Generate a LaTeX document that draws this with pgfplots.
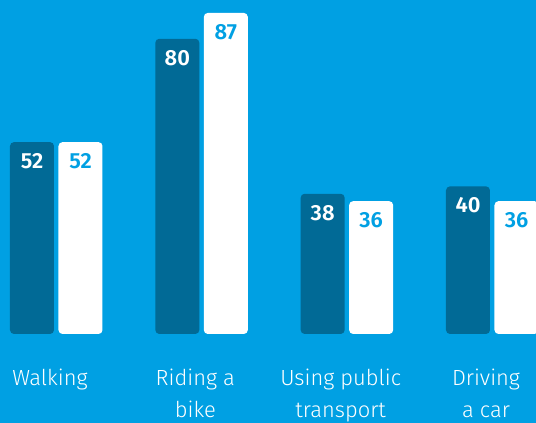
\documentclass[border=0pt]{standalone}
\usepackage{pgfplots}
\pgfplotsset{compat=1.18}
\usepackage{fontspec}
\setmainfont{Fira Sans}[UprightFont=* Light, BoldFont=* SemiBold]
\definecolor{bgblue}{RGB}{0,160,227}
\definecolor{darkbar}{RGB}{1,106,150}
\begin{document}
\begin{tikzpicture}
\clip (0,0) rectangle (536bp,423bp);
\fill[bgblue] (0,0) rectangle (536bp,423bp);
\begin{axis}[
  at={(0,89bp)}, anchor=south west,
  scale only axis, width=536bp, height=334bp,
  xmin=-0.3853, xmax=3.3028, ymin=0, ymax=90.5,
  ybar, bar width=44bp,
  axis line style={draw=none}, tick style={draw=none},
  ytick=\empty,
  xtick={0,1,2,3},
  xticklabels={Walking,{Riding a\\bike},{Using public\\transport},{Driving\\a car}},
  xticklabel style={align=center, text=white, font=\fontsize{22}{32}\selectfont, anchor=north, yshift=-27bp, xshift=-6bp},
  nodes near coords,
  /pgf/number format/assume math mode=true,
  every node near coord/.append style={anchor=north, inner sep=0pt, yshift=-11bp, font=\fontsize{22}{26}\selectfont\bfseries},
]
\addplot[fill=darkbar, draw=none, rounded corners=4bp, bar shift=-24bp, every node near coord/.append style={text=white}]
  coordinates {(0,52) (1,80) (2,38) (3,40)};
\addplot[fill=white, draw=none, rounded corners=4bp, bar shift=24.5bp, every node near coord/.append style={text=bgblue}]
  coordinates {(0,52) (1,87) (2,36) (3,36)};
\end{axis}
\end{tikzpicture}
\end{document}
